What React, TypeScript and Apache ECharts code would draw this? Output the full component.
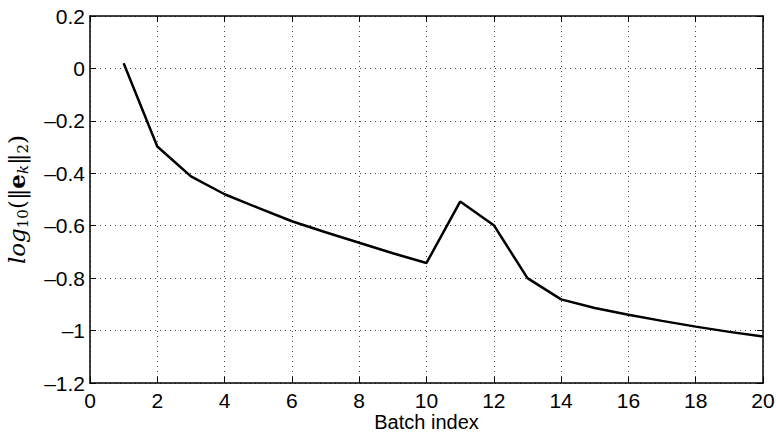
import React, { useEffect, useRef } from "react";
import * as echarts from "echarts";

const batchIndex = [1, 2, 3, 4, 5, 6, 7, 8, 9, 10, 11, 12, 13, 14, 15, 16, 17, 18, 19, 20];
const logError = [0.02, -0.298, -0.412, -0.48, -0.532, -0.583, -0.625, -0.665, -0.705, -0.742, -0.508, -0.598, -0.8, -0.881, -0.914, -0.94, -0.963, -0.985, -1.005, -1.023];
const yTicks = [0.2, 0, -0.2, -0.4, -0.6, -0.8, -1, -1.2];
const yTickLabels = ["0.2", "0", "\u20130.2", "\u20130.4", "\u20130.6", "\u20130.8", "\u20131", "\u20131.2"];
const xTickLabels = ["0", "2", "4", "6", "8", "10", "12", "14", "16", "18", "20"];

const FONT = "'Liberation Sans', Arial, Helvetica, sans-serif";
const SERIF = "'DejaVu Serif', 'Liberation Serif', serif";

function yLabel(v: number): string {
  let best = 0;
  for (let i = 0; i < yTicks.length; i++) {
    if (Math.abs(yTicks[i] - v) < Math.abs(yTicks[best] - v)) best = i;
  }
  return yTickLabels[best];
}

export default function App() {
  const ref = useRef<HTMLDivElement>(null);
  useEffect(() => {
    if (!ref.current) return;
    const chart = echarts.init(ref.current, null, { renderer: "svg" });
    const tickStyle = { show: true, inside: true, length: 6, lineStyle: { color: "#000", width: 1 } };
    const split = { show: true, lineStyle: { color: "#444", type: [1, 4] as any, width: 1 } };
    const line = { show: true, onZero: false, lineStyle: { color: "#000", width: 1.5 } };
    chart.setOption({
      animation: false,
      backgroundColor: "#fff",
      grid: { left: 90, right: 13, top: 16, bottom: 50, containLabel: false, outerBoundsMode: "none" },
      xAxis: [
        {
          type: "value",
          min: 0,
          max: 20,
          interval: 2,
          position: "bottom",
          axisLine: line,
          axisTick: tickStyle,
          splitLine: split,
          axisLabel: {
            color: "#000",
            fontSize: 21,
            fontFamily: FONT,
            margin: 7,
            formatter: (v: number) => xTickLabels[Math.round(v / 2)] ?? String(v),
          },
          name: "Batch index",
          nameLocation: "middle",
          nameGap: 29,
          nameMoveOverlap: false,
          nameTextStyle: { color: "#000", fontSize: 20, fontFamily: FONT, lineHeight: 20 },
        },
        {
          type: "value",
          min: 0,
          max: 20,
          interval: 2,
          position: "top",
          axisLine: line,
          axisTick: tickStyle,
          axisLabel: { show: false },
          splitLine: { show: false },
        },
      ],
      yAxis: [
        {
          type: "value",
          min: -1.2,
          max: 0.2,
          interval: 0.2,
          position: "left",
          axisLine: line,
          axisTick: tickStyle,
          splitLine: split,
          axisLabel: {
            color: "#000",
            fontSize: 21,
            fontFamily: FONT,
            margin: 5,
            formatter: (v: number) => yLabel(v),
          },
          name: "{it|log}{sub|10}{n|(\u2016}{b|e}{subi|k}{n|\u2016}{sub|2}{n|)}",
          nameLocation: "middle",
          nameRotate: 90,
          nameGap: 60,
          nameMoveOverlap: false,
          nameTextStyle: {
            color: "#000",
            rich: {
              it: { fontFamily: SERIF, fontStyle: "italic", fontSize: 23, color: "#000" },
              sub: { fontFamily: SERIF, fontSize: 15, verticalAlign: "bottom", padding: [12, 0, 0, 0], color: "#000" },
              subi: { fontFamily: SERIF, fontStyle: "italic", fontSize: 15, verticalAlign: "bottom", padding: [12, 0, 0, 0], color: "#000" },
              n: { fontFamily: SERIF, fontSize: 23, color: "#000" },
              b: { fontFamily: SERIF, fontWeight: "bold", fontSize: 23, color: "#000" },
            },
          },
        },
        {
          type: "value",
          min: -1.2,
          max: 0.2,
          interval: 0.2,
          position: "right",
          axisLine: line,
          axisTick: tickStyle,
          axisLabel: { show: false },
          splitLine: { show: false },
        },
      ],
      series: [
        {
          type: "line",
          data: batchIndex.map((x, i) => [x, logError[i]]),
          showSymbol: false,
          symbol: "none",
          lineStyle: { color: "#000", width: 2.5 },
          xAxisIndex: 0,
          yAxisIndex: 0,
        },
      ],
    });
    return () => chart.dispose();
  }, []);
  return <div ref={ref} style={{ width: 776, height: 433, position: "absolute", left: 0, top: 0 }} />;
}
